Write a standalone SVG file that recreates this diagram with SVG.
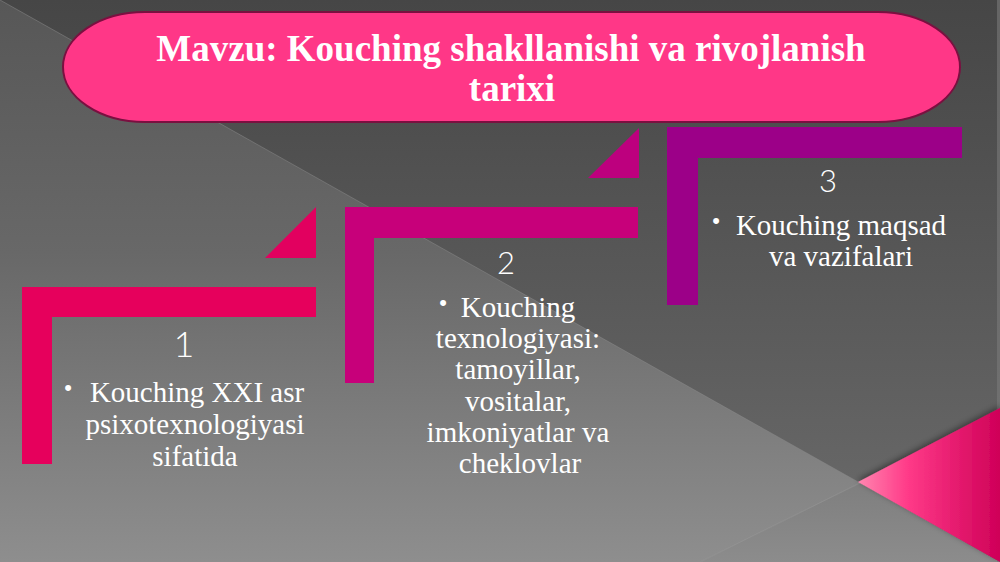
<svg xmlns="http://www.w3.org/2000/svg" width="1000" height="562" viewBox="0 0 1000 562">
<defs>
<linearGradient id="bgTop" x1="0" y1="0" x2="0" y2="1">
<stop offset="0" stop-color="#464646"/>
<stop offset="0.6" stop-color="#5c5c5c"/>
<stop offset="1" stop-color="#6c6c6c"/>
</linearGradient>
<linearGradient id="bgLow" gradientUnits="userSpaceOnUse" x1="0" y1="0" x2="0" y2="562">
<stop offset="0" stop-color="#575757"/>
<stop offset="0.45" stop-color="#686868"/>
<stop offset="1" stop-color="#8e8e8e"/>
</linearGradient>
<linearGradient id="bgRight" gradientUnits="userSpaceOnUse" x1="0" y1="480" x2="0" y2="562">
<stop offset="0" stop-color="#7e7e7e"/>
<stop offset="1" stop-color="#8c8c8c"/>
</linearGradient>
<linearGradient id="pinkTri" gradientUnits="userSpaceOnUse" x1="858" y1="0" x2="1000" y2="0">
<stop offset="0" stop-color="#ff86b0"/>
<stop offset="0.35" stop-color="#ff3a88"/>
<stop offset="1" stop-color="#cf0058"/>
</linearGradient>
<filter id="sh" x="-20%" y="-20%" width="140%" height="140%">
<feDropShadow dx="0" dy="-2" stdDeviation="3" flood-color="#000" flood-opacity="0.45"/>
</filter>
<style>
.title{font-family:"Liberation Serif","Times New Roman",serif;font-weight:bold;font-size:37px;fill:#ffffff;text-anchor:middle}
.body{font-family:"Liberation Serif","Times New Roman",serif;font-size:29px;fill:#ffffff;text-anchor:middle}
.num{font-family:"Lato","Open Sans","DejaVu Sans",sans-serif;font-weight:300;fill:#ffffff;text-anchor:middle}
.bul{font-family:"Liberation Sans",Arial,sans-serif;font-size:22px;fill:#ffffff;text-anchor:middle}
</style>
</defs>

<g id="background">
<rect x="0" y="0" width="1000" height="562" fill="url(#bgTop)"/>
<polygon points="0,0 860,483 700,562 0,562" fill="url(#bgLow)"/>
<polygon points="700,562 860,483 1000,562" fill="url(#bgRight)"/>
<line x1="0" y1="0" x2="860" y2="483" stroke="#8a8a8a" stroke-width="1" opacity="0.5"/>
<line x1="700" y1="562" x2="860" y2="483" stroke="#a0a0a0" stroke-width="1" opacity="0.5"/>
<rect x="997" y="0" width="3" height="562" fill="#7a7a7a" opacity="0.6"/>
<polygon points="858,482 1000,408 1000,562" fill="url(#pinkTri)" filter="url(#sh)"/>
</g>

<g id="title">
<rect x="63" y="12" width="897" height="110" rx="82" ry="55" fill="#ff3787" stroke="#7a1040" stroke-width="2"/>
<text class="title" x="511" y="61">Mavzu: Kouching shakllanishi va rivojlanish</text>
<text class="title" x="512" y="101">tarixi</text>
</g>

<g id="step1">
<polygon points="22,287 316,287 316,317 52,317 52,464 22,464" fill="#e6005c"/>
<polygon points="265,258 316,207 316,258" fill="#e2005f"/>
<text class="num" x="184" y="357" font-size="36">1</text>
<text class="bul" x="68" y="395">•</text>
<text class="body" x="197" y="402">Kouching XXI asr</text>
<text class="body" x="195" y="434">psixotexnologiyasi</text>
<text class="body" x="195" y="466">sifatida</text>
</g>

<g id="step2">
<polygon points="345,207 638,207 638,238 374,238 374,383 345,383" fill="#c7007a"/>
<polygon points="588,178 639,128 639,178" fill="#bd007e"/>
<text class="num" x="506" y="274" font-size="31">2</text>
<text class="bul" x="443" y="310">•</text>
<text class="body" x="518" y="317">Kouching</text>
<text class="body" x="518" y="348">texnologiyasi:</text>
<text class="body" x="518" y="379">tamoyillar,</text>
<text class="body" x="518" y="411">vositalar,</text>
<text class="body" x="518" y="442">imkoniyatlar va</text>
<text class="body" x="520" y="473">cheklovlar</text>
</g>

<g id="step3">
<polygon points="667,127 962,127 962,158 698,158 698,305 667,305" fill="#9c0088"/>
<text class="num" x="828" y="192" font-size="31">3</text>
<text class="bul" x="716" y="228">•</text>
<text class="body" x="841" y="235">Kouching maqsad</text>
<text class="body" x="841" y="266">va vazifalari</text>
</g>
</svg>
